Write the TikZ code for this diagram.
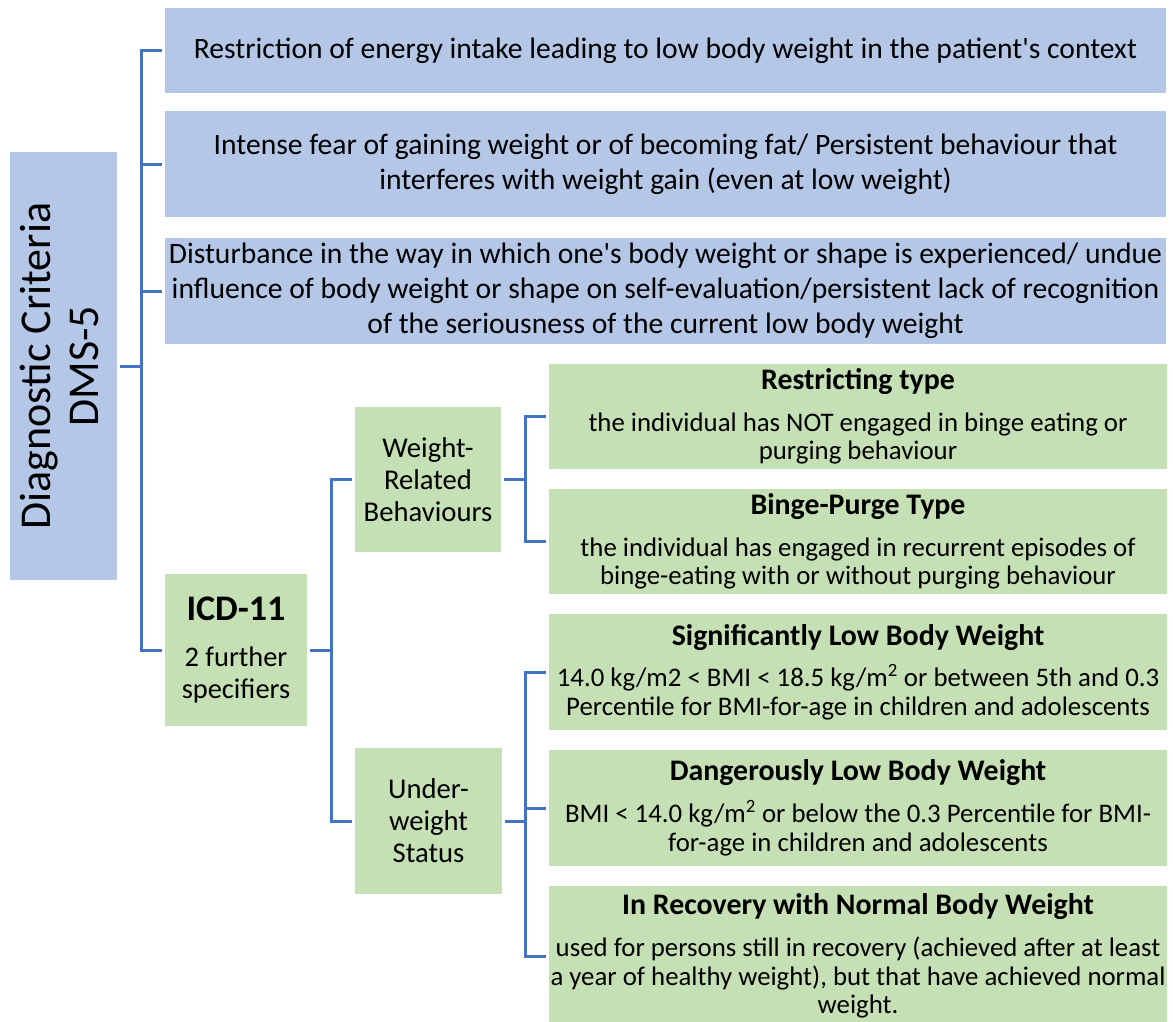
\documentclass[tikz,border=0pt]{standalone}
\usepackage{fontspec}
\setmainfont{Carlito}
\definecolor{boxblue}{HTML}{B4C7E7}
\definecolor{boxgreen}{HTML}{C5E0B4}
\definecolor{linkblue}{HTML}{4472C4}
\newdimen\pxu \pxu=0.75pt
\tikzset{
  bluebox/.style={fill=boxblue, inner sep=0pt, align=center, text=black,
    font=\fontsize{22.2}{26.2}\selectfont},
  greenbox/.style={fill=boxgreen, inner sep=0pt, align=center, text=black,
    font=\fontsize{21.5}{24}\selectfont},
  detailbox/.style={fill=boxgreen, inner sep=0pt, align=center, text=black,
    font=\fontsize{20.1}{21.4}\selectfont},
  conn/.style={draw=linkblue, line width=2.25pt, shorten <=3\pxu, shorten >=3\pxu},
}
\newcommand{\ttl}[1]{{\bfseries\fontsize{22.4}{22.4}\selectfont #1}}
\begin{document}
\begin{tikzpicture}[x=0.75pt,y=-0.75pt]
\useasboundingbox (0,0) rectangle (1173,1021);
% blue criteria boxes
\node[bluebox, minimum width=1001\pxu, minimum height=85\pxu] (b1) at (665.5,50.5)
  {Restriction of energy intake leading to low body weight in the patient\textquotesingle s context};
\node[bluebox, minimum width=1001\pxu, minimum height=106\pxu] (b2) at (665.5,164)
  {Intense fear of gaining weight or of becoming fat/ Persistent behaviour that\\interferes with weight gain (even at low weight)};
\node[bluebox, minimum width=1001\pxu, minimum height=106\pxu] (b3) at (665.5,291)
  {Disturbance in the way in which one\textquotesingle s body weight or shape is experienced/ undue\\influence of body weight or shape on self-evaluation/persistent lack of recognition\\of the seriousness of the current low body weight};
% DMS box
\node[fill=boxblue, inner sep=0pt, minimum width=107\pxu, minimum height=428\pxu] (dms) at (63.5,366) {};
\node[rotate=90, align=center, inner sep=0pt, font=\fontsize{33}{35.5}\selectfont] (dmstext) at ([xshift=-4\pxu]dms.center)
  {Diagnostic Criteria\\DMS-5};
% ICD box
\node[greenbox, minimum width=142\pxu, minimum height=152\pxu, font=\fontsize{21.3}{24}\selectfont] (icd) at (236,650)
  {{\bfseries\fontsize{27}{27}\selectfont ICD-11}\\[11pt]2 further\\specifiers};
% middle boxes
\node[greenbox, minimum width=146\pxu, minimum height=145\pxu] (wrb) at (428,479.5)
  {Weight-\\Related\\Behaviours};
\node[greenbox, minimum width=147\pxu, minimum height=146\pxu] (uws) at (428.5,821)
  {Under-\\weight\\Status};
% right boxes
\node[detailbox, minimum width=618\pxu, minimum height=105\pxu] (r1) at (858,416.5)
  {\ttl{Restricting type}\\[10pt]the individual has NOT engaged in binge eating or\\purging behaviour};
\node[detailbox, minimum width=618\pxu, minimum height=105\pxu] (r2) at (858,541.5)
  {\ttl{Binge-Purge Type}\\[10pt]the individual has engaged in recurrent episodes of\\binge-eating with or without purging behaviour};
\node[detailbox, minimum width=618\pxu, minimum height=116\pxu] (s1) at (858,672)
  {\ttl{Significantly Low Body Weight}\\[10pt]14.0 kg/m2 < BMI < 18.5 kg/m\textsuperscript{2} or between 5th and 0.3\\Percentile for BMI-for-age in children and adolescents};
\node[detailbox, minimum width=618\pxu, minimum height=116\pxu] (s2) at (858,808)
  {\ttl{Dangerously Low Body Weight}\\[10pt]BMI < 14.0 kg/m\textsuperscript{2} or below the 0.3 Percentile for BMI-\\for-age in children and adolescents};
\node[detailbox, minimum width=618\pxu, minimum height=140\pxu] (s3) at (858,956)
  {\ttl{In Recovery with Normal Body Weight}\\[10pt]used for persons still in recovery (achieved after at least\\a year of healthy weight), but that have achieved normal\\weight.};
% trunks
\coordinate (t1) at (141,0);
\coordinate (t2) at (331,0);
\coordinate (t3) at (525,0);
% connectors
\foreach \c in {b1,b2,b3,icd}
  \draw[conn] (dms.east) -- (dms.east -| t1) |- (\c.west);
\foreach \c in {wrb,uws}
  \draw[conn] (icd.east) -- (icd.east -| t2) |- (\c.west);
\foreach \c in {r1,r2}
  \draw[conn] (wrb.east) -- (wrb.east -| t3) |- (\c.west);
\foreach \c in {s1,s2,s3}
  \draw[conn] (uws.east) -- (uws.east -| t3) |- (\c.west);
\end{tikzpicture}
\end{document}
